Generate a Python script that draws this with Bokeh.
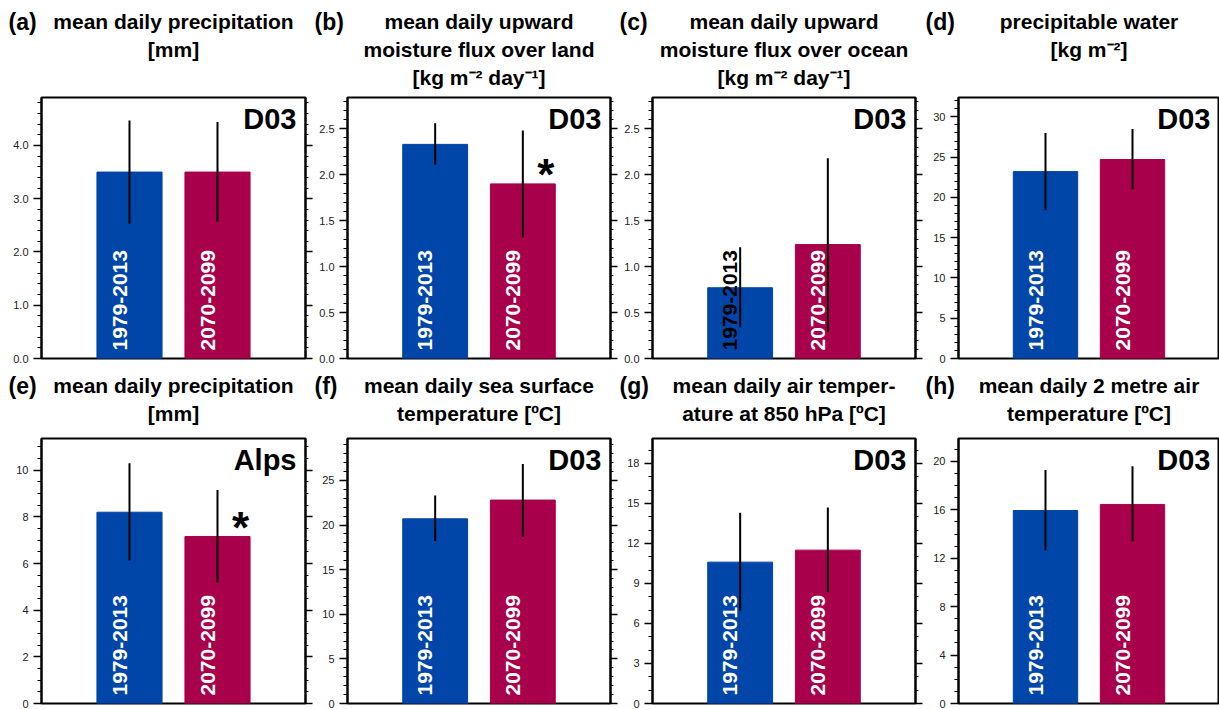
import numpy as np
from bokeh.plotting import figure
from bokeh.layouts import row, column
from bokeh.models import (Label, LinearAxis, SingleIntervalTicker, Range1d,
                          ColumnDataSource, NumeralTickFormatter, CustomJSTickFormatter)
from bokeh.embed import file_html
from bokeh.resources import INLINE
from bokeh.core.properties import value

# ---------------- data ----------------
periods = ["1979-2013", "2070-2099"]
panel_ids = ["(a)", "(b)", "(c)", "(d)", "(e)", "(f)", "(g)", "(h)"]
titles = [
    ["mean daily precipitation", "[mm]"],
    ["mean daily upward", "moisture flux over land", "[kg m\u207b\u00b2 day\u207b\u00b9]"],
    ["mean daily upward", "moisture flux over ocean", "[kg m\u207b\u00b2 day\u207b\u00b9]"],
    ["precipitable water", "[kg m\u207b\u00b2]"],
    ["mean daily precipitation", "[mm]"],
    ["mean daily sea surface", "temperature [\u00baC]"],
    ["mean daily air temper-", "ature at 850 hPa [\u00baC]"],
    ["mean daily 2 metre air", "temperature [\u00baC]"],
]
regions = ["D03", "D03", "D03", "D03", "Alps", "D03", "D03", "D03"]

hist_mean = [3.50, 2.33, 0.77, 23.2, 8.20, 20.7, 10.6, 15.95]
hist_low = [2.53, 2.11, 0.34, 18.4, 6.13, 18.2, 6.95, 12.65]
hist_high = [4.47, 2.56, 1.21, 28.0, 10.30, 23.3, 14.3, 19.3]
fut_mean = [3.50, 1.90, 1.24, 24.7, 7.16, 22.8, 11.5, 16.45]
fut_low = [2.57, 1.32, 0.29, 21.0, 5.20, 18.7, 8.36, 13.4]
fut_high = [4.44, 2.48, 2.18, 28.5, 9.15, 26.85, 14.7, 19.6]
significant = [False, True, False, False, True, False, False, False]

y_max = [4.90, 2.84, 2.84, 32.4, 11.36, 29.7, 19.87, 21.9]
tick_step = [1.0, 0.5, 0.5, 5, 2, 5, 3, 4]
minor_per_major = [5, 5, 5, 5, 4, 5, 3, 4]
tick_format = ["0.0", "0.0", "0.0", "0", "0", "0", "0", "0"]
label_colors = [
    ["white", "white"], ["white", "white"], ["black", "white"], ["white", "white"],
    ["white", "white"], ["white", "white"], ["white", "white"], ["white", "white"],
]
bar_colors = ["#0045A8", "#A8004A"]

FONT = "Liberation Sans"

# ---------------- layout geometry ----------------
col_left = [41, 32, 32, 33]
col_frame = [264, 263, 263, 261]
col_right = [10, 10, 10, 0]
header_h = [92, 69]
row_top = [5, 5]
row_frame = [261, 265]
row_bottom = [6, 6]
title_first = [21, 21]     # first title line centre, from header top
line_gap = 28
TOTAL_W = sum(l + f + r for l, f, r in zip(col_left, col_frame, col_right))


def make_header(r):
    h = header_h[r]
    p = figure(width=TOTAL_W, height=h, x_range=Range1d(0, TOTAL_W),
               y_range=Range1d(h, 0), x_axis_location=None, y_axis_location=None,
               toolbar_location=None, output_backend="svg", min_border=0)
    p.outline_line_color = None
    p.grid.visible = False
    xs, ys, txt, xi, yi, ids = [], [], [], [], [], []
    left = 0
    for c in range(4):
        i = r * 4 + c
        fl = left + col_left[c]
        fc = fl + col_frame[c] / 2
        for j, line in enumerate(titles[i]):
            xs.append(fc)
            ys.append(title_first[r] + j * line_gap)
            txt.append(line)
        xi.append(fl - 33)
        yi.append(title_first[r])
        ids.append(panel_ids[i])
        left += col_left[c] + col_frame[c] + col_right[c]
    p.text(x=xs, y=ys, text=txt, text_align="center", text_baseline="middle",
           text_font=value(FONT), text_font_style="bold", text_font_size="21px",
           text_color="black")
    p.text(x=xi, y=yi, text=ids, text_align="left", text_baseline="middle",
           text_font=value(FONT), text_font_style="bold", text_font_size="23px",
           text_color="black")
    return p


def make_panel(i):
    r, c = divmod(i, 4)
    W, H = col_frame[c], row_frame[r]
    p = figure(frame_width=W, frame_height=H,
               min_border_left=col_left[c], min_border_right=col_right[c],
               min_border_top=row_top[r], min_border_bottom=row_bottom[r],
               x_range=Range1d(0, 3), y_range=Range1d(0, y_max[i]),
               x_axis_location=None, toolbar_location=None,
               output_backend="svg")
    p.grid.visible = False
    p.outline_line_color = "black"
    p.outline_line_width = 2
    p.background_fill_color = "white"
    p.border_fill_color = "white"

    ax = p.yaxis[0]
    ax.ticker = SingleIntervalTicker(interval=tick_step[i], num_minor_ticks=minor_per_major[i])
    ax.formatter = NumeralTickFormatter(format=tick_format[i])
    ax.major_tick_out = 8
    ax.major_tick_in = 0
    ax.minor_tick_out = 4
    ax.minor_tick_in = 0
    ax.major_tick_line_width = 1.5
    ax.minor_tick_line_width = 1
    ax.axis_line_width = 2
    ax.major_label_standoff = 5
    ax.major_label_text_font = FONT
    ax.major_label_text_font_size = "11px"
    ax.major_label_text_color = "#222222"

    if c < 3:
        rax = LinearAxis(
            ticker=SingleIntervalTicker(interval=tick_step[i], num_minor_ticks=minor_per_major[i]),
            formatter=CustomJSTickFormatter(code="return ''"),
            major_label_standoff=0,
            major_tick_out=7, major_tick_in=0, minor_tick_out=3, minor_tick_in=0,
            major_tick_line_width=1.5, axis_line_width=2)
        p.add_layout(rax, "right")

    src = ColumnDataSource(dict(
        x=[1, 2], top=[hist_mean[i], fut_mean[i]],
        low=[hist_low[i], fut_low[i]], high=[hist_high[i], fut_high[i]],
        color=bar_colors, label=periods, tcolor=label_colors[i], y0=[0, 0]))
    p.vbar(x="x", top="top", bottom=0, width=0.74, fill_color="color",
           line_color="color", source=src)
    p.text(x="x", y="y0", text="label", source=src, angle=np.pi / 2,
           x_offset=-10, y_offset=-8, text_align="left", text_baseline="alphabetic",
           text_color="tcolor", text_font=value(FONT), text_font_style="bold",
           text_font_size="21px")
    p.segment(x0="x", y0="low", x1="x", y1="high", source=src,
              line_color="black", line_width=2)

    if significant[i]:
        p.text(x=[2], y=[fut_mean[i]], text=["*"], x_offset=23, y_offset=-9,
               text_align="center", text_baseline="middle", text_color="black",
               text_font=value(FONT), text_font_style="bold", text_font_size="44px")

    p.add_layout(Label(x=W - 9, y=H - 5, x_units="screen", y_units="screen",
                       text=regions[i], text_align="right", text_baseline="top",
                       text_font=FONT, text_font_style="bold",
                       text_font_size="29px", text_color="black"))
    return p


panels = [make_panel(i) for i in range(8)]
layout = column(make_header(0), row(*panels[:4]), make_header(1), row(*panels[4:]))

open("out.html", "w").write(file_html(layout, INLINE))
